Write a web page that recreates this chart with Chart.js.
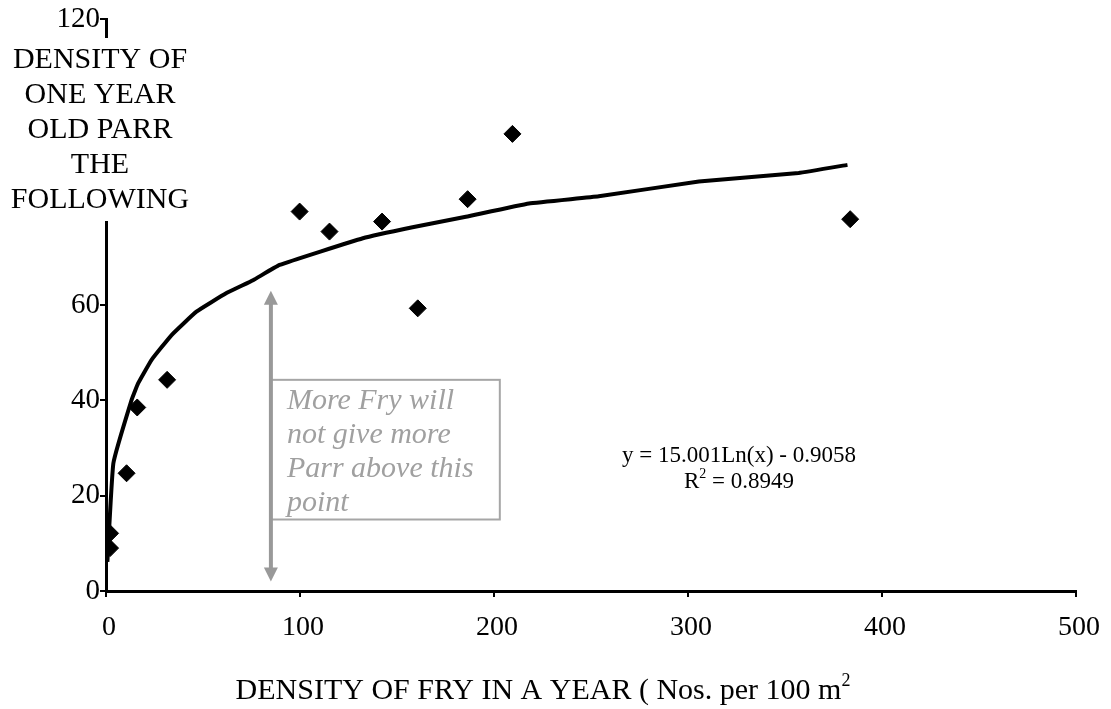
<!DOCTYPE html>
<html>
<head>
<meta charset="utf-8">
<script src="https://cdn.jsdelivr.net/npm/chart.js@4"></script>
<style>
  html, body { margin: 0; padding: 0; background: #fff; }
  #wrap { width: 1111px; height: 709px; }
</style>
</head>
<body>
<div id="wrap"><canvas id="fryChart" width="1111" height="709"></canvas></div>
<script>
// === Observed points: fry density vs one year old parr the following year ===
const fryDensity  = [2.1, 2.1, 10.6, 16.1, 31.5, 99.8, 115.2, 142.3, 160.7, 186.4, 209.5, 383.6];
const parrDensity = [12.1, 9.0, 24.7, 38.5, 44.3, 79.6, 75.4, 77.5, 59.3, 82.2, 95.9, 78.0];

// === Log trend line ===
const trendX = [0.7, 3.8, 13.2, 16.6, 23.5, 33.8, 46.6, 62.1, 75.8, 89.5, 132.4, 158, 185.5, 218, 254, 305.6, 357, 382.2];
const trendY = [6.1, 26.8, 40.1, 43.6, 48.5, 53.7, 58.6, 62.5, 65.2, 68.4, 74.0, 76.3, 78.5, 81.3, 82.8, 85.9, 87.7, 89.4];

// === Axis ticks ===
const xTicks = [0, 100, 200, 300, 400, 500];
const yTicks = [0, 20, 40, 60, 80, 100, 120];

// === Texts ===
const yTitleLines = ["DENSITY OF", "ONE YEAR", "OLD PARR", "THE", "FOLLOWING"];
const xTitle = "DENSITY OF FRY IN A YEAR ( Nos. per 100 m";
const eqLine = "y = 15.001Ln(x) - 0.9058";
const r2Text = " = 0.8949";
const noteLines = ["More Fry will", "not give more", "Parr above this", "point"];

// === Note arrow and box, in data units ===
const arrowFry = 85, arrowTop = 63, arrowBottom = 2;
const boxRightFry = 203, boxTop = 44.3, boxBottom = 15;

const serif = "'Liberation Serif', 'Times New Roman', serif";
const ctx = document.getElementById("fryChart").getContext("2d");

// text with a raised small "2" between two parts
function supText(c, before, after, x, y, size, align) {
  c.font = size + "px " + serif;
  const w1 = c.measureText(before).width;
  const w3 = c.measureText(after).width;
  const supSize = Math.round(size * 0.6);
  c.font = supSize + "px " + serif;
  const w2 = c.measureText("2").width;
  const total = w1 + w2 + w3;
  const left = align === "center" ? x - total / 2 : x;
  c.textAlign = "left";
  c.font = size + "px " + serif;
  c.fillText(before, left, y);
  c.font = supSize + "px " + serif;
  c.fillText("2", left + w1, y - size * 0.42);
  c.font = size + "px " + serif;
  c.fillText(after, left + w1 + w2, y);
}

const overlay = {
  id: "overlay",
  afterDraw(chart) {
    const c = chart.ctx;
    const xs = chart.scales.x, ys = chart.scales.y;
    c.save();

    // white patch behind the y title hides that part of the axis
    c.fillStyle = "#fff";
    c.fillRect(0, 38, 198, 183);
    c.fillStyle = "#000";
    c.font = "30px " + serif;
    c.textAlign = "center";
    c.textBaseline = "alphabetic";
    yTitleLines.forEach((t, i) => c.fillText(t, 100, 68 + i * 35));

    // x title
    supText(c, xTitle, "", 543, 699, 30, "center");

    // equation
    c.textAlign = "center";
    c.font = "23px " + serif;
    c.fillText(eqLine, 739, 462);
    supText(c, "R", r2Text, 739, 488, 23, "center");

    // note box
    const ax = xs.getPixelForValue(arrowFry);
    const bx2 = xs.getPixelForValue(boxRightFry);
    const by1 = ys.getPixelForValue(boxTop);
    const by2 = ys.getPixelForValue(boxBottom);
    c.strokeStyle = "#a6a6a6";
    c.lineWidth = 2;
    c.strokeRect(ax, by1, bx2 - ax, by2 - by1);
    c.fillStyle = "#a0a0a0";
    c.font = "italic 30px " + serif;
    c.textAlign = "left";
    noteLines.forEach((t, i) => c.fillText(t, ax + 16, by1 + 29 + i * 34));

    // double headed arrow
    const ay1 = ys.getPixelForValue(arrowTop);
    const ay2 = ys.getPixelForValue(arrowBottom);
    c.strokeStyle = "#999";
    c.fillStyle = "#999";
    c.lineWidth = 4;
    c.beginPath();
    c.moveTo(ax, ay1 + 12);
    c.lineTo(ax, ay2 - 12);
    c.stroke();
    c.beginPath();
    c.moveTo(ax, ay1);
    c.lineTo(ax - 7, ay1 + 14);
    c.lineTo(ax + 7, ay1 + 14);
    c.closePath();
    c.fill();
    c.beginPath();
    c.moveTo(ax, ay2);
    c.lineTo(ax - 7, ay2 - 14);
    c.lineTo(ax + 7, ay2 - 14);
    c.closePath();
    c.fill();

    c.restore();
  }
};

const chart = new Chart(ctx, {
  type: "scatter",
  data: {
    datasets: [
      {
        label: "Parr",
        data: fryDensity.map((x, i) => ({ x: x, y: parrDensity[i] })),
        pointStyle: "rectRot",
        pointRadius: 8.5,
        pointHoverRadius: 8.5,
        backgroundColor: "#000",
        borderColor: "#000",
        borderWidth: 1,
        order: 0
      },
      {
        label: "Log trend",
        data: trendX.map((x, i) => ({ x: x, y: trendY[i] })),
        showLine: true,
        pointRadius: 0,
        borderColor: "#000",
        borderWidth: 4,
        tension: 0.1,
        fill: false,
        order: 1
      }
    ]
  },
  options: {
    responsive: false,
    devicePixelRatio: 1,
    animation: false,
    events: [],
    layout: { padding: { top: 19, right: 33, left: 0, bottom: 0 } },
    plugins: {
      legend: { display: false },
      tooltip: { enabled: false }
    },
    scales: {
      x: {
        type: "linear",
        min: 0,
        max: 500,
        afterBuildTicks: s => { s.ticks = xTicks.map(v => ({ value: v })); },
        afterFit: s => { s.height = 118; },
        grid: { drawOnChartArea: false, drawTicks: true, tickLength: 6, color: "#000", lineWidth: 2 },
        border: { display: true, color: "#000", width: 3 },
        ticks: { color: "#000", font: { family: serif, size: 28 }, padding: 14, maxRotation: 0, labelOffset: 3 }
      },
      y: {
        type: "linear",
        min: 0,
        max: 120,
        afterBuildTicks: s => { s.ticks = yTicks.map(v => ({ value: v })); },
        afterFit: s => { s.width = 106; },
        grid: { drawOnChartArea: false, drawTicks: true, tickLength: 6, color: "#000", lineWidth: 2 },
        border: { display: true, color: "#000", width: 3 },
        ticks: { color: "#000", font: { family: serif, size: 29 }, padding: 0 }
      }
    }
  },
  plugins: [overlay]
});
</script>
</body>
</html>
